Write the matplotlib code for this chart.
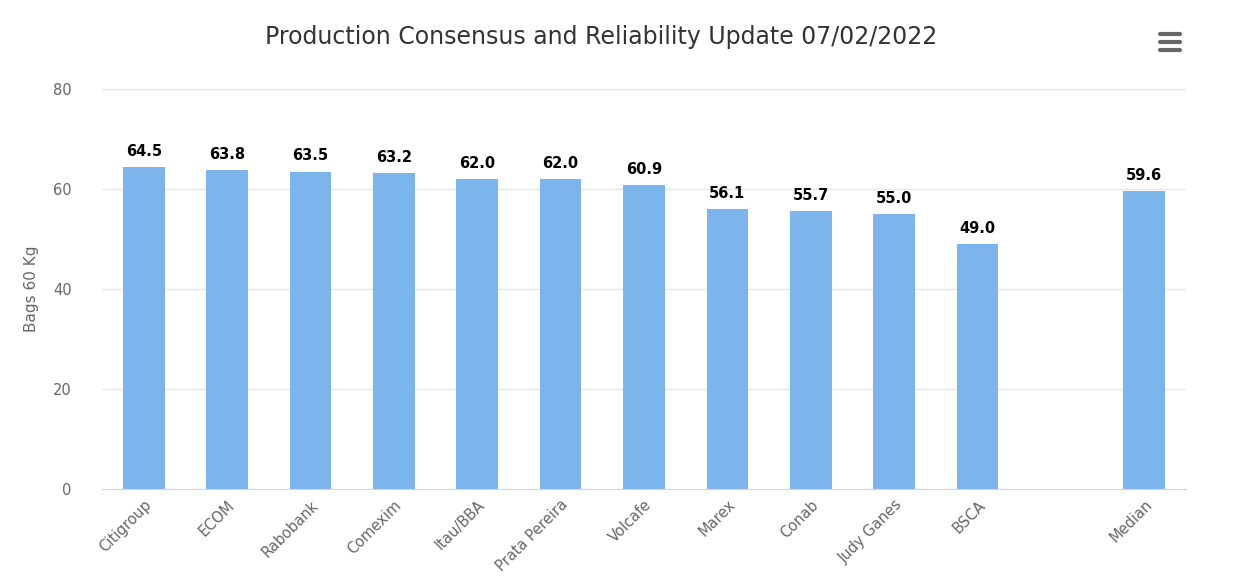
import matplotlib.pyplot as plt
from matplotlib.lines import Line2D

categories = ["Citigroup", "ECOM", "Rabobank", "Comexim", "Itau/BBA", "Prata Pereira",
              "Volcafe", "Marex", "Conab", "Judy Ganes", "BSCA", "", "Median"]
values = [64.5, 63.8, 63.5, 63.2, 62.0, 62.0, 60.9, 56.1, 55.7, 55.0, 49.0, None, 59.6]
yticks = [0, 20, 40, 60, 80]

plt.rcParams['font.family'] = ['DejaVu Sans']

fig = plt.figure(figsize=(12.46, 5.85), dpi=100)
ax = fig.add_axes([102 / 1246, 1 - 489 / 585, 1084 / 1246, 400 / 585])

xs = [i for i, v in enumerate(values) if v is not None]
vs = [v for v in values if v is not None]
bars = ax.bar(xs, vs, width=0.5, color="#7cb5ec", zorder=2)
for x, v in zip(xs, vs):
    ax.text(x, v + 1.6, f"{v:.1f}", ha="center", va="bottom", fontsize=10.5,
            fontweight="bold", color="#000000")

ax.set_xlim(-0.5, len(categories) - 0.5)
ax.set_ylim(0, 80)
ax.set_yticks(yticks)
ax.set_yticklabels([str(t) for t in yticks], color="#666666", fontsize=10.5)
ax.set_xticks(range(len(categories)))
ax.set_xticklabels(categories, rotation=45, ha="right", rotation_mode="anchor",
                   color="#666666", fontsize=10.5)
ax.tick_params(axis="y", length=0, pad=22)
ax.tick_params(axis="x", length=0, pad=6)
ax.grid(axis="y", color="#e6e6e6", linewidth=1, zorder=0)
for s in ["top", "right", "left"]:
    ax.spines[s].set_visible(False)
ax.spines["bottom"].set_color("#ccd6eb")
ax.set_ylabel("Bags 60 Kg", color="#666666", fontsize=11, labelpad=10)

fig.text(601 / 1246, 1 - 37 / 585, "Production Consensus and Reliability Update 07/02/2022",
         ha="center", va="center", fontsize=17, color="#333333")

# menu icon
for yy in [34, 42, 50]:
    fig.add_artist(Line2D([1160 / 1246, 1180 / 1246], [1 - yy / 585] * 2,
                          color="#666666", linewidth=3, solid_capstyle="round"))

fig.savefig("out.png", dpi=100)
